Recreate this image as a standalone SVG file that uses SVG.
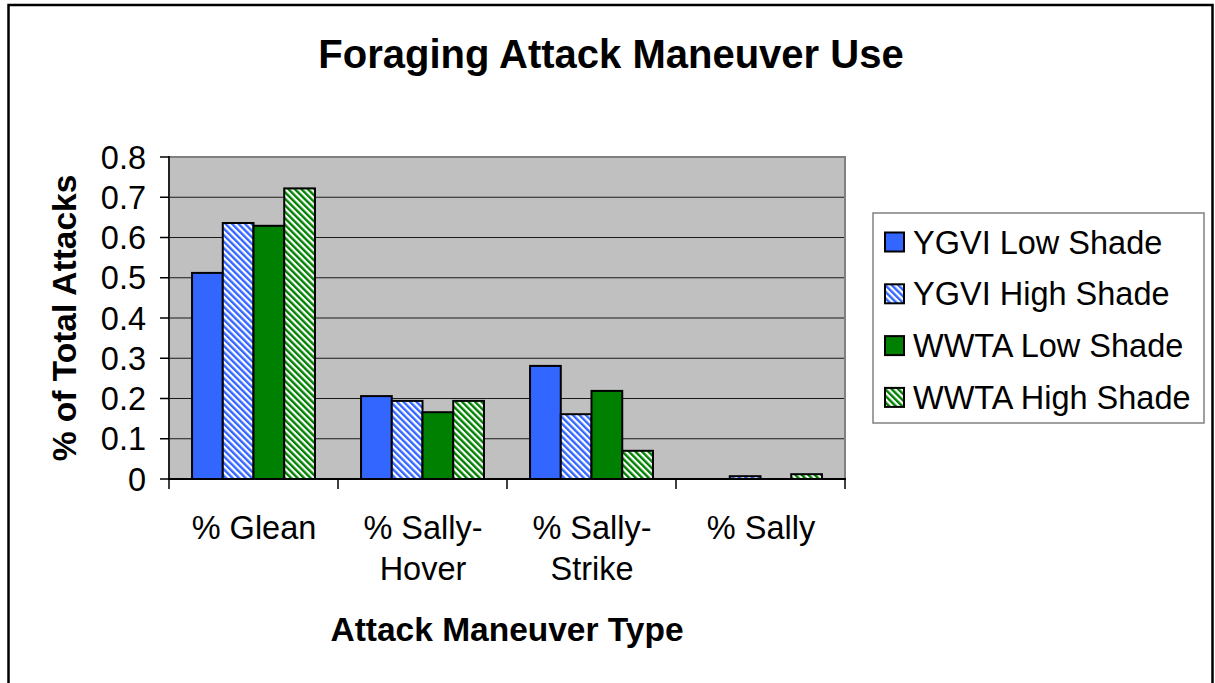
<svg xmlns="http://www.w3.org/2000/svg" width="1215" height="683" viewBox="0 0 1215 683">
  <style>
    text { font-family: "Liberation Sans", Arial, sans-serif; fill: #000; }
    .title { font-size: 40px; font-weight: bold; }
    .axis-title { font-size: 33.5px; font-weight: bold; }
    .lbl { font-size: 32.5px; }
    .grid { stroke: #1a1a1a; stroke-width: 1.2; }
    .tick { stroke: #000; stroke-width: 1.5; }
    .bar { stroke: #000; stroke-width: 2; }
    .s1 { fill: #3366FF; }
    .s2 { fill: url(#hatchBlue); }
    .s3 { fill: #008000; }
    .s4 { fill: url(#hatchGreen); }
  </style>
  <defs>
    <!-- downward diagonal hatches for the high-shade series -->
    <pattern id="hatchBlue" patternUnits="userSpaceOnUse" width="4.6" height="4.6" patternTransform="rotate(-45)">
      <rect width="4.6" height="4.6" fill="#ffffff"/>
      <rect width="2.4" height="4.6" fill="#3366FF"/>
    </pattern>
    <pattern id="hatchGreen" patternUnits="userSpaceOnUse" width="4.6" height="4.6" patternTransform="rotate(-45)">
      <rect width="4.6" height="4.6" fill="#ffffff"/>
      <rect width="2.4" height="4.6" fill="#008000"/>
    </pattern>
  </defs>

  <rect width="1215" height="683" fill="#ffffff"/>
  <!-- chart frame -->
  <path d="M8.5,690 V5 H1212.5 V690" fill="none" stroke="#000" stroke-width="2.5"/>

  <g id="title">
    <text class="title" x="611" y="68" text-anchor="middle">Foraging Attack Maneuver Use</text>
  </g>

  <g id="plot-area">
    <rect x="169" y="157" width="676" height="322" fill="#C0C0C0"/>
    <g id="gridlines">
      <line class="grid" x1="169" y1="438.75" x2="845" y2="438.75"/>
      <line class="grid" x1="169" y1="398.5" x2="845" y2="398.5"/>
      <line class="grid" x1="169" y1="358.25" x2="845" y2="358.25"/>
      <line class="grid" x1="169" y1="318" x2="845" y2="318"/>
      <line class="grid" x1="169" y1="277.75" x2="845" y2="277.75"/>
      <line class="grid" x1="169" y1="237.5" x2="845" y2="237.5"/>
      <line class="grid" x1="169" y1="197.25" x2="845" y2="197.25"/>
    </g>
    <path d="M169,157 H845 V479" fill="none" stroke="#808080" stroke-width="2"/>
  </g>

  <g id="bars">
    <g id="glean">
      <rect class="bar s1" x="192.05" y="272.9" width="30.73" height="206.1"/>
      <rect class="bar s2" x="222.78" y="223" width="30.73" height="256"/>
      <rect class="bar s3" x="253.51" y="225.8" width="30.73" height="253.2"/>
      <rect class="bar s4" x="284.24" y="188.4" width="30.73" height="290.6"/>
    </g>
    <g id="sally-hover">
      <rect class="bar s1" x="361.05" y="396.1" width="30.73" height="82.9"/>
      <rect class="bar s2" x="391.78" y="400.9" width="30.73" height="78.1"/>
      <rect class="bar s3" x="422.51" y="412.2" width="30.73" height="66.8"/>
      <rect class="bar s4" x="453.24" y="400.9" width="30.73" height="78.1"/>
    </g>
    <g id="sally-strike">
      <rect class="bar s1" x="530.05" y="365.9" width="30.73" height="113.1"/>
      <rect class="bar s2" x="560.78" y="414.2" width="30.73" height="64.8"/>
      <rect class="bar s3" x="591.51" y="390.9" width="30.73" height="88.1"/>
      <rect class="bar s4" x="622.24" y="450.8" width="30.73" height="28.2"/>
    </g>
    <g id="sally">
      <rect class="bar s2" x="729.78" y="476.2" width="30.73" height="2.8"/>
      <rect class="bar s4" x="791.24" y="474.2" width="30.73" height="4.8"/>
    </g>
  </g>

  <g id="value-axis">
    <line x1="169" y1="156" x2="169" y2="480" stroke="#222" stroke-width="2"/>
    <g class="tick">
      <line x1="160" y1="157" x2="169" y2="157"/>
      <line x1="160" y1="197.25" x2="169" y2="197.25"/>
      <line x1="160" y1="237.5" x2="169" y2="237.5"/>
      <line x1="160" y1="277.75" x2="169" y2="277.75"/>
      <line x1="160" y1="318" x2="169" y2="318"/>
      <line x1="160" y1="358.25" x2="169" y2="358.25"/>
      <line x1="160" y1="398.5" x2="169" y2="398.5"/>
      <line x1="160" y1="438.75" x2="169" y2="438.75"/>
      <line x1="160" y1="479" x2="169" y2="479"/>
    </g>
    <g text-anchor="end">
      <text class="lbl" x="146" y="168.5">0.8</text>
      <text class="lbl" x="146" y="208.75">0.7</text>
      <text class="lbl" x="146" y="249">0.6</text>
      <text class="lbl" x="146" y="289.25">0.5</text>
      <text class="lbl" x="146" y="329.5">0.4</text>
      <text class="lbl" x="146" y="369.75">0.3</text>
      <text class="lbl" x="146" y="410">0.2</text>
      <text class="lbl" x="146" y="450.25">0.1</text>
      <text class="lbl" x="146" y="490.5">0</text>
    </g>
    <text class="axis-title" transform="translate(76,318) rotate(-90)" text-anchor="middle">% of Total Attacks</text>
  </g>

  <g id="category-axis">
    <line x1="168" y1="479" x2="846" y2="479" stroke="#000" stroke-width="2"/>
    <g class="tick">
      <line x1="169" y1="479" x2="169" y2="489"/>
      <line x1="338" y1="479" x2="338" y2="489"/>
      <line x1="507" y1="479" x2="507" y2="489"/>
      <line x1="676" y1="479" x2="676" y2="489"/>
      <line x1="845" y1="479" x2="845" y2="489"/>
    </g>
    <g text-anchor="middle">
      <text class="lbl" x="254" y="539">% Glean</text>
      <text class="lbl" x="423" y="539">% Sally-</text>
      <text class="lbl" x="423" y="580">Hover</text>
      <text class="lbl" x="592" y="539">% Sally-</text>
      <text class="lbl" x="592" y="580">Strike</text>
      <text class="lbl" x="761" y="539">% Sally</text>
    </g>
    <text class="axis-title" x="507" y="641" text-anchor="middle">Attack Maneuver Type</text>
  </g>

  <g id="legend">
    <rect x="873" y="213" width="331" height="210" fill="#ffffff" stroke="#808080" stroke-width="1.5"/>
    <g id="legend-ygvi-low">
      <rect class="bar s1" x="885" y="232.5" width="19" height="19"/>
      <text class="lbl" x="913" y="253.5">YGVI Low Shade</text>
    </g>
    <g id="legend-ygvi-high">
      <rect class="bar s2" x="885" y="284.3" width="19" height="19"/>
      <text class="lbl" x="913" y="305.3">YGVI High Shade</text>
    </g>
    <g id="legend-wwta-low">
      <rect class="bar s3" x="885" y="336.1" width="19" height="19"/>
      <text class="lbl" x="913" y="357.1">WWTA Low Shade</text>
    </g>
    <g id="legend-wwta-high">
      <rect class="bar s4" x="885" y="387.9" width="19" height="19"/>
      <text class="lbl" x="913" y="408.9">WWTA High Shade</text>
    </g>
  </g>
</svg>
